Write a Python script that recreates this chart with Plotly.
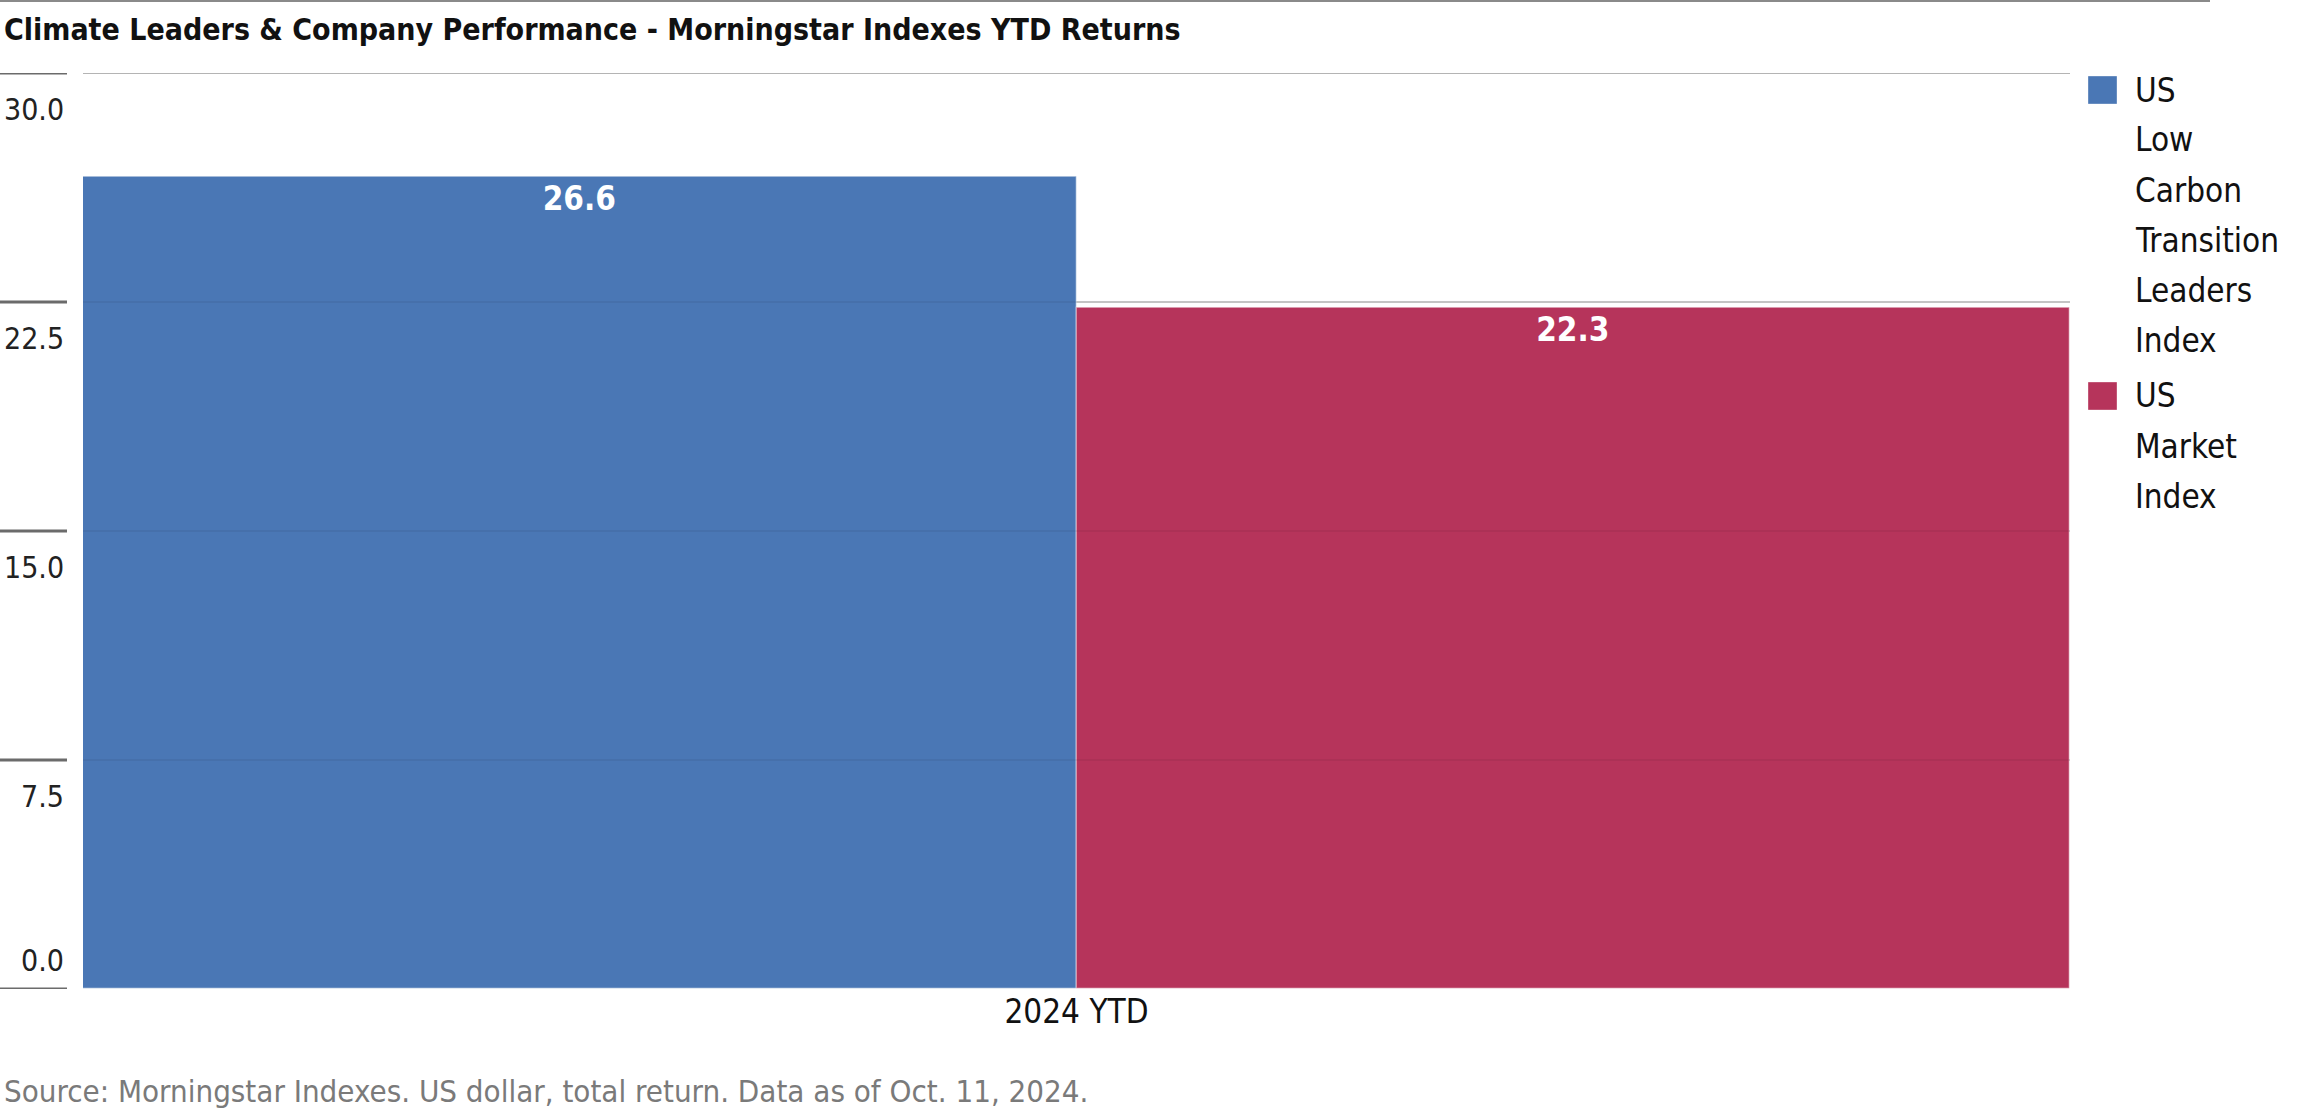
import plotly.graph_objects as go

# ---- data ----
categories = ["2024 YTD"]
series_names = ["US Low Carbon Transition Leaders Index", "US Market Index"]
series_values = [[26.6], [22.3]]
series_colors = ["#4a77b5", "#b6345b"]
tick_values = [0, 7.5, 15, 22.5, 30]
tick_labels = ["0.0", "7.5", "15.0", "22.5", "30.0"]
title_text = "Climate Leaders & Company Performance - Morningstar Indexes YTD Returns"
source_text = "Source: Morningstar Indexes. US dollar, total return. Data as of Oct. 11, 2024."

FONT = "DejaVu Sans Condensed, Liberation Sans Narrow, sans-serif"

# ---- layout geometry (pixels) ----
W, H = 2300, 1117
L, R, T, B = 83, 2070, 73, 989
PW, PH = R - L, B - T


def px(x):
    return (x - L) / PW


def py(y):
    return (B - y) / PH


fig = go.Figure()
for name, vals, col in zip(series_names, series_values, series_colors):
    fig.add_trace(go.Bar(
        x=categories, y=vals, name=name,
        marker=dict(color=col, line=dict(color="rgba(255,255,255,0.35)", width=1.5)),
        text=[f"{v:.1f}" for v in vals],
        textposition="inside", insidetextanchor="end",
        textfont=dict(family=FONT, size=33, color="white", weight="bold"),
        showlegend=False,
    ))

shapes = []
annotations = []

# top rule
shapes.append(dict(type="line", xref="paper", yref="paper",
                   x0=px(0), x1=px(2210), y0=py(1), y1=py(1),
                   line=dict(color="#8a8a8a", width=2)))

# y tick marks (left of plot) and faint grid over bars
top_val = max(tick_values)
for v, lab in zip(tick_values, tick_labels):
    shapes.append(dict(type="line", xref="paper", yref="y",
                       x0=px(0), x1=px(67), y0=v, y1=v,
                       line=dict(color="#6b6b6b", width=3)))
    if v == top_val:
        shapes.append(dict(type="line", xref="paper", yref="y", layer="below",
                           x0=0, x1=1, y0=v, y1=v,
                           line=dict(color="#b4b4b4", width=2)))
    elif v != 0:
        shapes.append(dict(type="line", xref="paper", yref="y", layer="above",
                           x0=0, x1=1, y0=v, y1=v,
                           line=dict(color="rgba(0,0,0,0.07)", width=1.5)))
    annotations.append(dict(
        text=lab, xref="paper", yref="y", x=px(66), y=v,
        xanchor="right", yanchor="middle", showarrow=False,
        yshift=(29 if v == 0 else -36),
        font=dict(family=FONT, size=30, color="#222222")))

# legend (manual)
y_center = 90
for name, col in zip(series_names, series_colors):
    shapes.append(dict(type="rect", xref="paper", yref="paper",
                       x0=px(2088), x1=px(2117), y0=py(y_center - 14), y1=py(y_center + 14),
                       fillcolor=col, line=dict(color="rgba(255,255,255,0.35)", width=1)))
    words = name.split(" ")
    for i, w in enumerate(words):
        annotations.append(dict(
            text=w, xref="paper", yref="paper", x=px(2133), y=py(y_center + 50 * i),
            xanchor="left", yanchor="middle", showarrow=False,
            font=dict(family=FONT, size=33, color="#111111")))
    y_center = y_center + 50 * (len(words) - 1) + 56

# title
annotations.append(dict(
    text="<b>" + title_text.replace("&", "&amp;") + "</b>", xref="paper", yref="paper",
    x=px(2), y=py(29), xanchor="left", yanchor="middle", showarrow=False,
    font=dict(family=FONT, size=30, color="#111111")))

# source
annotations.append(dict(
    text=source_text, xref="paper", yref="paper",
    x=px(2), y=py(1091), xanchor="left", yanchor="middle", showarrow=False,
    font=dict(family=FONT, size=31, color="#7a7a7a")))

fig.update_layout(
    width=W, height=H,
    margin=dict(l=L, r=W - R, t=T, b=H - B, pad=0),
    paper_bgcolor="white", plot_bgcolor="white",
    barmode="group", bargap=0, bargroupgap=0,
    shapes=shapes, annotations=annotations,
    showlegend=False,
    font=dict(family=FONT),
    xaxis=dict(showline=False, ticks="", showgrid=False, zeroline=False,
               tickfont=dict(family=FONT, size=33, color="#111111")),
    yaxis=dict(range=[0, 30], tickvals=tick_values, showticklabels=False,
               showgrid=True, gridcolor="#cfcfcf", gridwidth=2,
               zeroline=False, showline=False, ticks=""),
)

fig.write_html("out.html", config={"displayModeBar": False},
               post_script="document.body.style.margin='0';document.body.style.overflow='hidden';")
